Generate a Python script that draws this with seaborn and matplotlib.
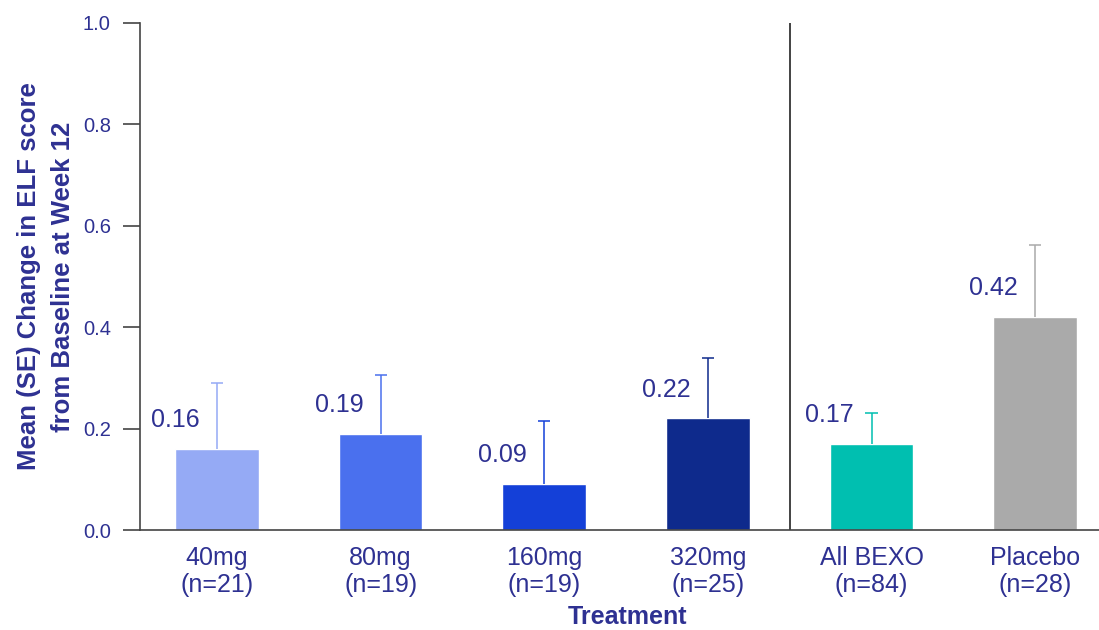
import matplotlib
matplotlib.use("Agg")
import matplotlib.pyplot as plt
import seaborn as sns
import pandas as pd
import numpy as np

categories = ["40mg\n(n=21)", "80mg\n(n=19)", "160mg\n(n=19)", "320mg\n(n=25)", "All BEXO\n(n=84)", "Placebo\n(n=28)"]
means = [0.16, 0.19, 0.09, 0.22, 0.17, 0.42]
se = [0.13, 0.116, 0.125, 0.119, 0.061, 0.142]
colors = ["#95aaf5", "#4a70ee", "#1440d8", "#0e2a8c", "#00bfb0", "#aaaaaa"]
value_labels = ["0.16", "0.19", "0.09", "0.22", "0.17", "0.42"]

TEXT = "#2e3192"

sns.set_theme(style="white")
plt.rcParams["font.family"] = ["Liberation Sans", "DejaVu Sans"]

df = pd.DataFrame({"cat": categories, "mean": means})

fig = plt.figure(figsize=(10.99, 6.30), dpi=100)
ax = fig.add_axes([0.1274, 0.1587, 0.8726, 0.8048])

sns.barplot(data=df, x="cat", y="mean", hue="cat", palette=colors, order=categories,
            hue_order=categories, width=0.51, errorbar=None, legend=False, ax=ax,
            saturation=1)

x = np.arange(len(categories))
tops = np.array(means) + np.array(se)
cap_half = 0.037
ax.vlines(x, means, tops, colors=colors, linewidth=1.1)
ax.hlines(tops, x - cap_half, x + cap_half, colors=colors, linewidth=1.1)
for i in range(len(categories)):
    ax.text(x[i] - 0.255, means[i] + 0.057, value_labels[i], ha="center", va="center",
            fontsize=18, color=TEXT)

ax.axvline(3.5, color="#222222", lw=1.2)

ax.set_xlim(-0.47, 5.39)
ax.set_ylim(0, 1.0)
ax.set_yticks([0, 0.2, 0.4, 0.6, 0.8, 1.0])
ax.set_yticklabels(["0.0", "0.2", "0.4", "0.6", "0.8", "1.0"])

for s in ["top", "right"]:
    ax.spines[s].set_visible(False)
for s in ["left", "bottom"]:
    ax.spines[s].set_color("#444444")
    ax.spines[s].set_linewidth(1.2)

ax.tick_params(axis="y", which="major", left=True, length=12, width=1.2, color="#444444",
               labelsize=14.5, labelcolor=TEXT, pad=9)
ax.tick_params(axis="x", bottom=False, labelsize=18, labelcolor=TEXT, pad=5.5)
for lab in ax.get_xticklabels():
    lab.set_linespacing(1.15)

ax.set_xlabel("Treatment", fontsize=18, fontweight="bold", color=TEXT)
ax.xaxis.set_label_coords(0.508, -0.147)
ax.xaxis.label.set_va("top")
ax.set_ylabel("Mean (SE) Change in ELF score\nfrom Baseline at Week 12", fontsize=18.5,
              fontweight="bold", color=TEXT, labelpad=6, linespacing=1.5)

fig.savefig("out.png", dpi=100)
